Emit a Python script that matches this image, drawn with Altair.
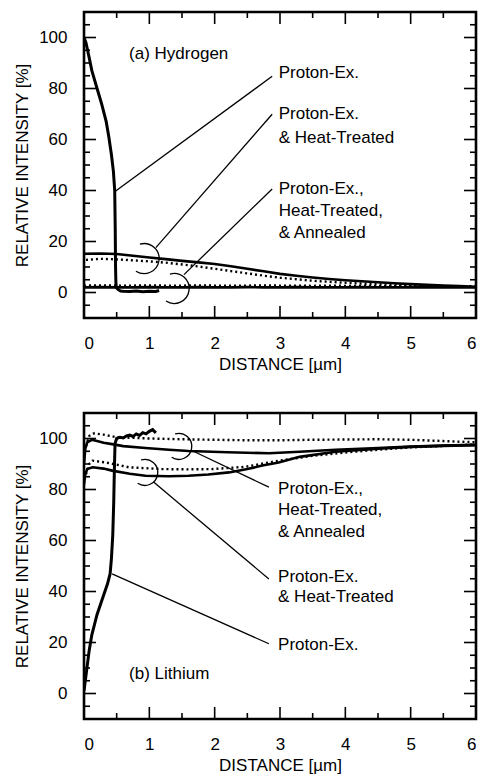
import altair as alt
import pandas as pd

# ---------------- (a) Hydrogen depth profiles ----------------
H_PE_X = [0, 0.03, 0.08, 0.12, 0.2, 0.27, 0.34, 0.38, 0.42, 0.45, 0.47, 0.478,
          0.483, 0.488, 0.495, 0.52, 0.56, 0.6, 0.7, 0.8, 0.9, 1.0, 1.1, 1.15]
H_PE_Y = [100, 98, 92, 87, 80, 74, 67, 61, 54, 47.5, 40, 25,
          10, 4, 2, 1.2, 0.6, 0.5, 0.4, 0.6, 0.3, 0.5, 0.4, 0.8]

H_X = [0, 0.25, 0.5, 0.75, 1.0, 1.25, 1.5, 1.75, 2.0, 2.25, 2.5, 2.75, 3.0,
       3.25, 3.5, 3.75, 4.0, 4.25, 4.5, 4.75, 5.0, 5.25, 5.5, 5.75, 6.0]
H_HT_SOLID = [15.2, 15.3, 15.1, 14.4, 13.7, 13.1, 12.4, 11.8, 11.2, 10.3, 9.3, 8.3, 7.3,
              6.6, 5.9, 5.3, 4.8, 4.4, 4.0, 3.6, 3.3, 3.0, 2.7, 2.5, 2.2]
H_HT_DOT = [12.8, 13.2, 13.0, 12.6, 12.2, 11.7, 11.0, 10.2, 9.3, 8.4, 7.5, 6.6, 5.8,
            5.2, 4.6, 4.2, 3.8, 3.5, 3.2, 3.0, 2.8, 2.6, 2.5, 2.4, 2.3]
H_AN_SOLID = [2.0, 2.1, 2.0, 2.0, 2.1, 2.0, 2.0, 2.1, 2.0, 2.0, 2.1, 2.0, 2.0,
              2.1, 2.0, 2.0, 2.0, 2.1, 2.0, 2.0, 2.0, 2.1, 2.0, 2.0, 2.0]
H_AN_DOT = [2.7, 2.8, 2.7, 2.7, 2.8, 2.7, 2.7, 2.8, 2.7, 2.7, 2.7, 2.8, 2.7,
            2.7, 2.6, 2.7, 2.6, 2.6, 2.5, 2.5, 2.5, 2.4, 2.4, 2.4, 2.3]

# ---------------- (b) Lithium depth profiles ----------------
L_PE_X = [0, 0.04, 0.08, 0.12, 0.2, 0.3, 0.36, 0.4, 0.42, 0.44, 0.455, 0.465, 0.475,
          0.5, 0.55, 0.6, 0.65, 0.7, 0.75, 0.8, 0.85, 0.9, 0.95, 1.0, 1.05, 1.1]
L_PE_Y = [1, 9, 17, 23, 31, 38.5, 43, 47, 53, 62, 75, 88, 98,
          100, 100.5, 100.2, 101, 101.3, 100.8, 101.8, 101.2, 102.3, 101.8, 102.8, 103.5, 102.2]

L_AN_SOLID_X = [0, 0.02, 0.05, 0.12, 0.2, 0.3, 0.43, 0.6, 0.94, 1.3, 1.6, 2.2, 2.83,
                3.3, 3.85, 4.5, 5.0, 5.5, 6.0]
L_AN_SOLID = [90, 96, 98.5, 99.5, 99, 98.3, 97.8, 97, 96.3, 95.6, 95.1, 94.6, 94.2,
              94.8, 95.6, 96.3, 96.8, 97.2, 97.5]
L_AN_DOT_X = [0.03, 0.08, 0.15, 0.3, 0.5, 1.0, 1.5, 2.0, 2.5, 3.0, 3.5, 4.0, 4.5,
              5.0, 5.5, 6.0]
L_AN_DOT = [97, 101, 102, 101.5, 100.5, 100, 99.7, 99.5, 99.3, 99.3, 99.5, 99.6, 99.7,
            99.5, 99, 98.5]

L_HT_SOLID_X = [0, 0.02, 0.05, 0.13, 0.3, 0.43, 0.7, 0.94, 1.3, 1.6, 1.9, 2.22, 2.5,
                2.73, 2.98, 3.3, 3.85, 4.5, 5.0, 5.5, 6.0]
L_HT_SOLID = [82, 86, 88, 88.7, 88.2, 87.4, 86.2, 85.4, 85.2, 85.4, 85.9, 86.7, 88.0,
              89.4, 90.6, 92.8, 94.8, 96.0, 96.7, 97.1, 97.4]
L_HT_DOT_X = [0.03, 0.08, 0.13, 0.33, 0.69, 1.2, 1.6, 1.96, 2.47, 2.98, 3.5, 4.0, 4.5,
              5.0, 5.5, 6.0]
L_HT_DOT = [86, 90, 91.3, 90.6, 88.7, 88.0, 87.9, 88.0, 88.9, 91.3, 93.2, 94.5, 95.6,
            96.5, 97.1, 97.7]

# ---------------- annotations (data units) ----------------
H_LEAD_X1 = [0.485, 1.10, 1.53]
H_LEAD_Y1 = [39.8, 17.6, 7.0]
H_LEAD_X2 = [2.88, 2.88, 2.88]
H_LEAD_Y2 = [84.8, 69.9, 40.6]
H_TEXT = ["(a) Hydrogen", "Proton-Ex.", "Proton-Ex.", "& Heat-Treated",
          "Proton-Ex.,", "Heat-Treated,", "& Annealed"]
H_TEXT_X = [0.69, 2.98, 2.98, 2.98, 2.98, 2.98, 2.98]
H_TEXT_Y = [93.4, 85.9, 69.9, 60.5, 40.6, 32.0, 23.4]
H_BR_X = [0.92, 1.38]
H_BR_Y = [13.3, 1.6]

L_LEAD_X1 = [1.65, 1.07, 0.43]
L_LEAD_Y1 = [95.3, 82.8, 46.9]
L_LEAD_X2 = [2.83, 2.83, 2.83]
L_LEAD_Y2 = [80.9, 44.9, 19.5]
L_TEXT = ["(b) Lithium", "Proton-Ex.,", "Heat-Treated,", "& Annealed",
          "Proton-Ex.", "& Heat-Treated", "Proton-Ex."]
L_TEXT_X = [0.69, 2.97, 2.97, 2.97, 2.97, 2.97, 2.97]
L_TEXT_Y = [7.8, 80.1, 71.9, 63.3, 45.7, 37.9, 19.1]
L_BR_X = [1.45, 0.93]
L_BR_Y = [96.9, 86.7]

X_MAJOR = [0, 1, 2, 3, 4, 5, 6]
X_MINOR = [0.5, 1.5, 2.5, 3.5, 4.5, 5.5]
Y_MAJOR = [0, 20, 40, 60, 80, 100]
Y_MINOR = [-5, 5, 10, 15, 25, 30, 35, 45, 50, 55, 65, 70, 75, 85, 90, 95, 105]

W, H = 392, 306
FONT = "Liberation Sans"
XS = alt.Scale(domain=[0, 6], nice=False, zero=False)
YS = alt.Scale(domain=[-10, 110], nice=False, zero=False)
XAX = alt.Axis(title="DISTANCE [µm]", values=X_MAJOR, format="d")
YAX = alt.Axis(title="RELATIVE INTENSITY [%]", values=Y_MAJOR, format="d")


def X(field="x"):
    return alt.X(f"{field}:Q", scale=XS, axis=XAX, title="DISTANCE [µm]")


def Y(field="y"):
    return alt.Y(f"{field}:Q", scale=YS, axis=YAX, title="RELATIVE INTENSITY [%]")


def series(name, xs, ys):
    return pd.DataFrame({"x": xs, "y": ys, "s": name})


def ticks():
    layers = []
    for vals, ln in [(X_MAJOR, 12), (X_MINOR, 6)]:
        base = alt.Chart(pd.DataFrame({"x": vals})).mark_rule(color="black", strokeWidth=1.6)
        layers.append(base.encode(x=X(), y=alt.value(H), y2=alt.value(H - ln)))
        layers.append(base.encode(x=X(), y=alt.value(0), y2=alt.value(ln)))
    for vals, ln in [(Y_MAJOR, 12), (Y_MINOR, 6)]:
        base = alt.Chart(pd.DataFrame({"y": vals})).mark_rule(color="black", strokeWidth=1.6)
        layers.append(base.encode(y=Y(), x=alt.value(0), x2=alt.value(ln)))
        layers.append(base.encode(y=Y(), x=alt.value(W), x2=alt.value(W - ln)))
    return layers


def panel(solid, dotted, thick, lead, text, brackets, br_radius):
    thick_layer = alt.Chart(thick).mark_line(color="black", strokeWidth=3, clip=True).encode(
        x=X(), y=Y(), detail="s:N"
    )
    solid_layer = alt.Chart(solid).mark_line(color="black", strokeWidth=2.6, clip=True).encode(
        x=X(), y=Y(), detail="s:N"
    )
    dot_layer = alt.Chart(dotted).mark_line(
        color="black", strokeWidth=2.4, strokeDash=[2, 3], clip=True
    ).encode(x=X(), y=Y(), detail="s:N")
    lead_layer = alt.Chart(lead).mark_rule(color="black", strokeWidth=1.3).encode(
        x=X(), y=Y(), x2="x2:Q", y2="y2:Q"
    )
    text_layer = alt.Chart(text).mark_text(
        align="left", baseline="middle", font=FONT, fontSize=17, color="black"
    ).encode(x=X(), y=Y(), text="t:N")
    br_layer = alt.Chart(brackets).mark_arc(
        filled=False, stroke="black", strokeWidth=1.3, radius=br_radius, radius2=br_radius,
        theta=6.0, theta2=10.0,
    ).encode(x=X(), y=Y())
    return alt.layer(thick_layer, solid_layer, dot_layer, lead_layer, br_layer, text_layer,
                     *ticks()).properties(width=W, height=H)


h_solid = pd.concat([series("ht", H_X, H_HT_SOLID), series("an", H_X, H_AN_SOLID)])
h_dot = pd.concat([series("ht", [0.03] + H_X[1:], H_HT_DOT), series("an", H_X, H_AN_DOT)])
h_thick = series("pe", H_PE_X, H_PE_Y)
h_lead = pd.DataFrame({"x": H_LEAD_X1, "y": H_LEAD_Y1, "x2": H_LEAD_X2, "y2": H_LEAD_Y2})
h_text = pd.DataFrame({"t": H_TEXT, "x": H_TEXT_X, "y": H_TEXT_Y})
h_br = pd.DataFrame({"x": H_BR_X, "y": H_BR_Y})

l_solid = pd.concat([series("an", L_AN_SOLID_X, L_AN_SOLID),
                     series("ht", L_HT_SOLID_X, L_HT_SOLID)])
l_dot = pd.concat([series("an", L_AN_DOT_X, L_AN_DOT), series("ht", L_HT_DOT_X, L_HT_DOT)])
l_thick = series("pe", L_PE_X, L_PE_Y)
l_lead = pd.DataFrame({"x": L_LEAD_X1, "y": L_LEAD_Y1, "x2": L_LEAD_X2, "y2": L_LEAD_Y2})
l_text = pd.DataFrame({"t": L_TEXT, "x": L_TEXT_X, "y": L_TEXT_Y})
l_br = pd.DataFrame({"x": L_BR_X, "y": L_BR_Y})

top = panel(h_solid, h_dot, h_thick, h_lead, h_text, h_br, 15)
bottom = panel(l_solid, l_dot, l_thick, l_lead, l_text, l_br, 13)

chart = alt.vconcat(top, bottom, spacing=36).properties(
    padding={"left": 12, "top": 9, "right": 0, "bottom": 0},
    background="white",
).configure_view(
    stroke="black", strokeWidth=2.6
).configure_axis(
    grid=False, ticks=False, domain=False,
    labelFont=FONT, labelFontSize=17, labelColor="black", labelPadding=17,
    titleFont=FONT, titleFontSize=17, titleFontWeight="normal", titleColor="black",
).configure_axisX(
    titlePadding=5
).configure_axisY(
    titlePadding=7
)

chart.save("out.html", embed_options={"renderer": "svg", "actions": False})
